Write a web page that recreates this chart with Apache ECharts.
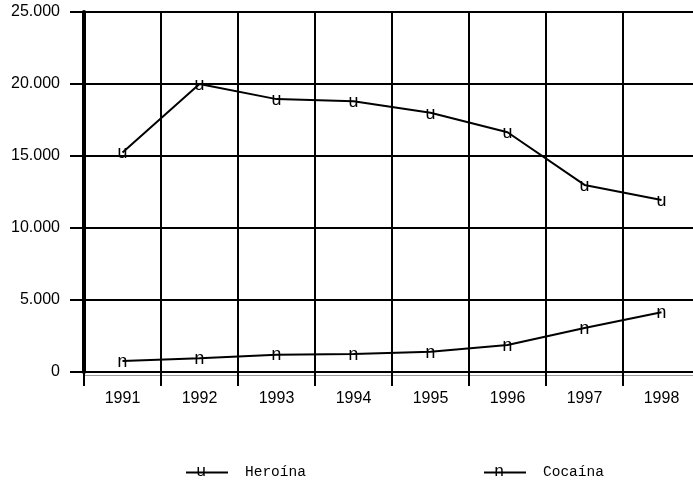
<!DOCTYPE html>
<html>
<head>
<meta charset="utf-8">
<script src="https://cdn.jsdelivr.net/npm/echarts@6/dist/echarts.min.js"></script>
<style>html,body{margin:0;padding:0;background:#fff;overflow:hidden;}#c{width:700px;height:484px;}</style>
</head>
<body>
<div id="c"></div>
<script>
var years = ['1991','1992','1993','1994','1995','1996','1997','1998'];
var heroina = [15250, 20000, 18950, 18800, 18000, 16650, 12990, 11950];
var cocaina = [760, 950, 1200, 1250, 1400, 1870, 3050, 4150];
var seriesNames = ['Heroína', 'Cocaína'];
var markerChars = ['u', 'n'];
var yTicks = [0, 5000, 10000, 15000, 20000, 25000];

function fmt(v) {
  return String(v).replace(/\B(?=(\d{3})+(?!\d))/g, '.');
}

var chart = echarts.init(document.getElementById('c'), null, {renderer: 'canvas'});
var markerLabel = function (ch) {
  return {
    show: true, position: 'inside', offset: [0, 1], formatter: ch,
    fontFamily: 'Liberation Mono', fontSize: 18, color: '#000'
  };
};
var legendCommon = {
  top: 460, itemWidth: 42, itemHeight: 14,
  itemStyle: {opacity: 0},
  lineStyle: {color: '#000', width: 2},
  textStyle: {fontFamily: 'Liberation Mono', fontSize: 14.5, color: '#000', padding: [0, 0, 0, 12]}
};
var option = {
  backgroundColor: '#fff',
  animation: false,
  grid: {left: 84, top: 12, right: 0, height: 360, containLabel: false},
  xAxis: [{
    type: 'category', data: years, boundaryGap: true,
    axisLine: {show: true, lineStyle: {color: '#000', width: 2}},
    axisTick: {show: true, length: 14, lineStyle: {color: '#000', width: 2}},
    axisLabel: {margin: 19, fontFamily: 'Liberation Sans', fontSize: 16, color: '#000'},
    splitLine: {show: true, lineStyle: {color: '#000', width: 2}}
  }, {
    type: 'category', data: years, position: 'bottom', offset: 3,
    axisLine: {show: true, lineStyle: {color: '#999', width: 1}},
    axisTick: {show: false}, axisLabel: {show: false}, splitLine: {show: false}
  }],
  yAxis: {
    type: 'value', min: yTicks[0], max: yTicks[yTicks.length - 1], interval: 5000,
    axisLine: {show: true, lineStyle: {color: '#000', width: 4}},
    axisTick: {show: true, length: 14, lineStyle: {color: '#000', width: 2}},
    axisLabel: {margin: 24, fontFamily: 'Liberation Sans', fontSize: 16, color: '#000', formatter: fmt},
    splitLine: {show: true, lineStyle: {color: '#000', width: 2}}
  },
  legend: [
    Object.assign({data: [seriesNames[0]], left: 180}, legendCommon),
    Object.assign({data: [seriesNames[1]], left: 478}, legendCommon)
  ],
  graphic: [
    {type: 'text', x: 201, y: 471, style: {text: markerChars[0], font: '17px "Liberation Mono"', fill: '#000', align: 'center', verticalAlign: 'middle'}},
    {type: 'text', x: 499, y: 471, style: {text: markerChars[1], font: '17px "Liberation Mono"', fill: '#000', align: 'center', verticalAlign: 'middle'}}
  ],
  series: [{
    name: seriesNames[0], type: 'line', data: heroina,
    symbol: 'circle', symbolSize: 0.1, showSymbol: true,
    itemStyle: {color: '#000'}, lineStyle: {color: '#000', width: 2},
    label: markerLabel(markerChars[0])
  }, {
    name: seriesNames[1], type: 'line', data: cocaina,
    symbol: 'circle', symbolSize: 0.1, showSymbol: true,
    itemStyle: {color: '#000'}, lineStyle: {color: '#000', width: 2},
    label: markerLabel(markerChars[1])
  }]
};
chart.setOption(option);
</script>
</body>
</html>
